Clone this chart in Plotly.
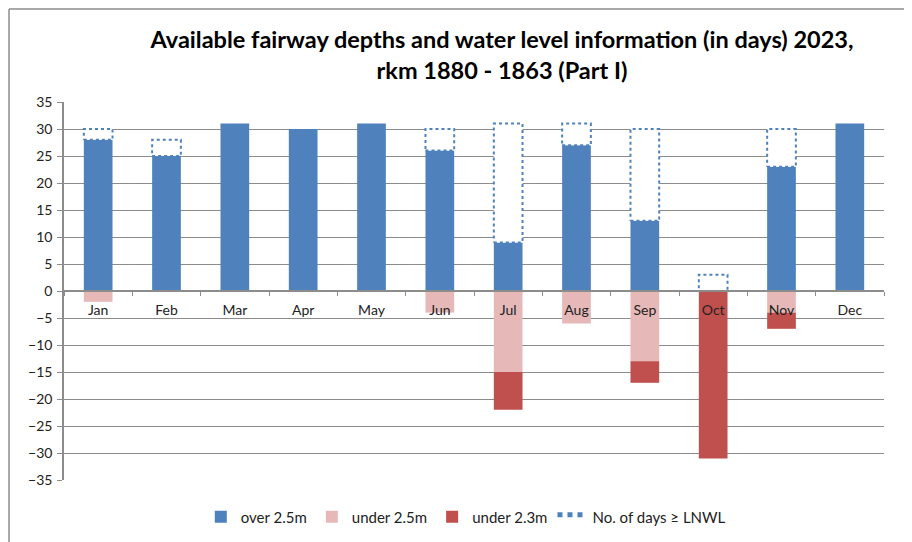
import plotly.graph_objects as go

months = ["Jan", "Feb", "Mar", "Apr", "May", "Jun", "Jul", "Aug", "Sep", "Oct", "Nov", "Dec"]
over_25 = [28, 25, 31, 30, 31, 26, 9, 27, 13, 0, 23, 31]
under_25 = [-2, 0, 0, 0, 0, -4, -15, -6, -13, 0, -4, 0]
under_23 = [0, 0, 0, 0, 0, 0, -7, 0, -4, -31, -3, 0]
days_lnwl = [30, 28, 31, 30, 31, 30, 31, 31, 30, 3, 30, 31]

BLUE = "#4F81BD"
PINK = "#E6B9B8"
RED = "#C0504D"
GRID = "#8C8C8C"
FONT = "Lato"
W = 0.42

fig = go.Figure()
fig.add_trace(go.Bar(x=months, y=over_25, name="over 2.5m", width=W,
                     marker=dict(color=BLUE, line=dict(width=0))))
fig.add_trace(go.Bar(x=months, y=under_25, name="under 2.5m", width=W,
                     marker=dict(color=PINK, line=dict(width=0))))
fig.add_trace(go.Bar(x=months, y=under_23, name="under 2.3m", width=W,
                     marker=dict(color=RED, line=dict(width=0))))

# dotted boxes between the blue bar top and the LNWL day count
bx, by = [], []
for i, (o, d) in enumerate(zip(over_25, days_lnwl)):
    if d > o:
        bx += [i - W / 2, i + W / 2, i + W / 2, i - W / 2, i - W / 2, None]
        by += [o, o, d, d, o, None]
fig.add_trace(go.Scatter(x=bx, y=by, xaxis="x2", mode="lines", fill="toself",
                         fillcolor="white", name="No. of days ≥ LNWL",
                         line=dict(color=BLUE, width=2, dash="dot")))

fig.update_layout(
    width=904, height=534,
    barmode="relative", bargap=0.58,
    paper_bgcolor="white", plot_bgcolor="white",
    margin=dict(l=56, r=28, t=94, b=62, autoexpand=False),
    font=dict(family=FONT, size=14, color="#222"),
    title=dict(text="<b>Available fairway depths and water level information (in days) 2023,<br>rkm 1880 - 1863 (Part I)</b>",
               x=494 / 904, xanchor="center", y=0.925, yanchor="middle",
               font=dict(family=FONT, size=23.5, color="black")),
    xaxis=dict(type="category", anchor="free", position=0.5, showgrid=False,
               showline=True, linecolor=GRID, linewidth=1.5,
               ticks="outside", tickson="boundaries", ticklen=4, tickcolor=GRID,
               ticklabelstandoff=6,
               range=[-0.5, 11.5], tickfont=dict(size=14, color="#222"), zeroline=False,
               automargin=False),
    xaxis2=dict(overlaying="x", range=[-0.5, 11.5], visible=False),
    yaxis=dict(range=[-35, 35], dtick=5, showgrid=True, gridcolor=GRID, gridwidth=1.3,
               zeroline=False, showline=True, linecolor=GRID, linewidth=1.5,
               ticks="outside", ticklen=5, tickcolor=GRID, automargin=False,
               ticklabelstandoff=2,
               tickfont=dict(size=14, color="#222")),
    legend=dict(orientation="h", x=0.49, xanchor="center", y=-0.098, yanchor="middle",
                font=dict(size=15, color="#222"), traceorder="normal",
                itemsizing="constant"),
    showlegend=True,
)

# chart frame (left and top edges)
fig.add_shape(type="line", xref="paper", yref="paper",
              x0=(1 - 56) / 820, x1=(1 - 56) / 820, y0=(472 - 540) / 378, y1=(472 - 1) / 378,
              line=dict(color="#8C8C8C", width=1.5))
fig.add_shape(type="line", xref="paper", yref="paper",
              x0=(1 - 56) / 820, x1=(910 - 56) / 820, y0=(472 - 1) / 378, y1=(472 - 1) / 378,
              line=dict(color="#8C8C8C", width=1.5))

fig.write_html("out.html")
